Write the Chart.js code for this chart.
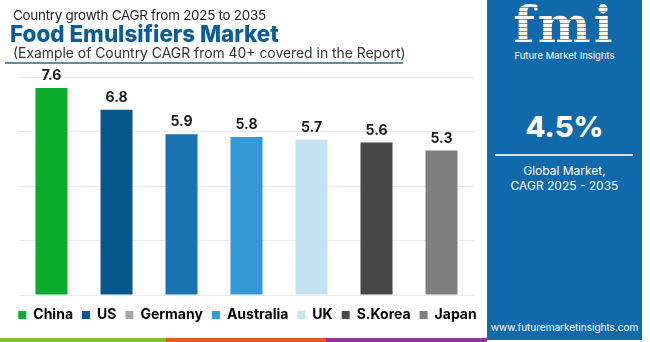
<!DOCTYPE html>
<html>
<head>
<meta charset="utf-8">
<script src="https://cdn.jsdelivr.net/npm/chart.js@4.4.0/dist/chart.umd.min.js"></script>
<style>
    html, body { margin: 0; padding: 0; }
    body { width: 650px; height: 342px; position: relative; overflow: hidden; background: #fff; font-family: Inter, "Noto Sans", sans-serif; }
    .abs { position: absolute; white-space: nowrap; }
    #chartBox { position: absolute; left: 0; top: 0; width: 487px; height: 338px; }
    .head1 { left: 13px; top: 7px; font-size: 13.4px; line-height: 17px; letter-spacing: -0.25px; color: #222; }
    .head2 { left: 10px; top: 22px; font-size: 22.4px; line-height: 24px; font-weight: 800; color: #0b5c97; }
    .head3 { left: 13px; top: 45px; font-size: 13.9px; line-height: 16px; color: #333; }
    .rule { left: 5px; top: 62px; width: 398px; height: 2px; background: #5f8bab; }
    .panel { left: 487px; top: 0; width: 155px; height: 340px; background: #0f69ab; }
    .logo { left: 0; top: 0; width: 155px; text-align: center; font-family: "DejaVu Serif", serif; font-weight: bold; font-size: 50px; line-height: 50px; letter-spacing: 3px;
        color: transparent; background: repeating-linear-gradient(to bottom, #fff 0 3px, rgba(255,255,255,0.35) 3px 4px); -webkit-background-clip: text; background-clip: text; }
    .brand { left: 0; top: 50px; width: 155px; text-align: center; font-size: 9.5px; color: #fff; }
    .big { left: 0; top: 109px; width: 155px; text-align: center; font-size: 29px; font-weight: 800; color: #fff; }
    .line { left: 8px; top: 154px; width: 138px; height: 2px; background: rgba(255,255,255,0.8); }
    .sub { left: 0; top: 163px; width: 155px; text-align: center; font-size: 12px; line-height: 15px; color: #fff; }
    .url { left: 0; top: 321px; width: 155px; text-align: center; font-size: 10px; color: #fff; }
    .strip { top: 338px; height: 4px; }
</style>
</head>
<body>
<div id="chartBox"><canvas id="cagrChart"></canvas></div>

<div class="abs head1">Country growth CAGR from 2025 to 2035</div>
<div class="abs head2">Food Emulsifiers Market</div>
<div class="abs head3">(Example of Country CAGR from 40+ covered in the Report)</div>
<div class="abs rule"></div>

<div class="abs panel">
    <div class="abs logo">fmi</div>
    <div class="abs brand">Future Market Insights</div>
    <div class="abs big">4.5%</div>
    <div class="abs line"></div>
    <div class="abs sub">Global Market,<br>CAGR 2025 - 2035</div>
    <div class="abs url">www.futuremarketinsights.com</div>
</div>

<div class="abs strip" style="left:0;width:166px;background:#86bd40"></div>
<div class="abs strip" style="left:166px;width:160px;background:#e5572b"></div>
<div class="abs strip" style="left:326px;width:161px;background:#8e3a9a"></div>

<script>
const countries = ["China", "US", "Germany", "Australia", "UK", "S.Korea", "Japan"];
const cagr = [7.6, 6.8, 5.9, 5.8, 5.7, 5.6, 5.3];
const barColors = ["#0aaa2d", "#06568e", "#1a73b0", "#3497d6", "#c5e2f3", "#474747", "#7f7f7f"];
const legendColors = ["#12a838", "#0a5a92", "#a8a8a8", "#3498db", "#c8e3f3", "#4a4a4a", "#808080"];
const yTicks = [0, 2, 4, 6, 8];

// value labels above each bar
const barLabels = {
    id: "barLabels",
    afterDatasetsDraw(chart) {
        const ctx = chart.ctx;
        const meta = chart.getDatasetMeta(0);
        ctx.save();
        ctx.font = "bold 14px Inter, 'Noto Sans', sans-serif";
        ctx.fillStyle = "#1a1a1a";
        ctx.textAlign = "center";
        ctx.textBaseline = "bottom";
        meta.data.forEach((bar, i) => {
            ctx.fillText(cagr[i].toFixed(1), bar.x, bar.y - 5);
        });
        ctx.restore();
    }
};

new Chart(document.getElementById("cagrChart"), {
    type: "bar",
    data: {
        labels: countries,
        datasets: [{
            data: cagr,
            backgroundColor: barColors,
            borderWidth: 0,
            barPercentage: 0.5,
            categoryPercentage: 0.985
        }]
    },
    options: {
        responsive: true,
        maintainAspectRatio: false,
        animation: false,
        layout: { padding: { top: 77, left: 8, right: 0, bottom: 6 } },
        scales: {
            x: {
                grid: { display: false },
                border: { display: false },
                ticks: { display: false },
                afterFit: scale => { scale.height = 4; }
            },
            y: {
                min: yTicks[0],
                max: yTicks[yTicks.length - 1],
                afterBuildTicks: scale => { scale.ticks = yTicks.map(v => ({ value: v })); },
                grid: { color: "#ececec", drawTicks: false },
                border: { display: false },
                ticks: { display: false },
                afterFit: scale => { scale.width = 11; }
            },
            yRight: {
                position: "right",
                grid: { display: false },
                border: { display: false },
                ticks: { display: false },
                afterFit: scale => { scale.width = 13; }
            }
        },
        plugins: {
            tooltip: { enabled: false },
            legend: {
                position: "bottom",
                labels: {
                    boxWidth: 8,
                    boxHeight: 8,
                    padding: 9,
                    color: "#1a1a1a",
                    font: { family: "Inter, 'Noto Sans', sans-serif", size: 14, weight: "bold" },
                    generateLabels: () => countries.map((c, i) => ({
                        text: c,
                        fillStyle: legendColors[i],
                        strokeStyle: legendColors[i],
                        lineWidth: 0,
                        index: i
                    }))
                }
            }
        }
    },
    plugins: [barLabels]
});
</script>
</body>
</html>
